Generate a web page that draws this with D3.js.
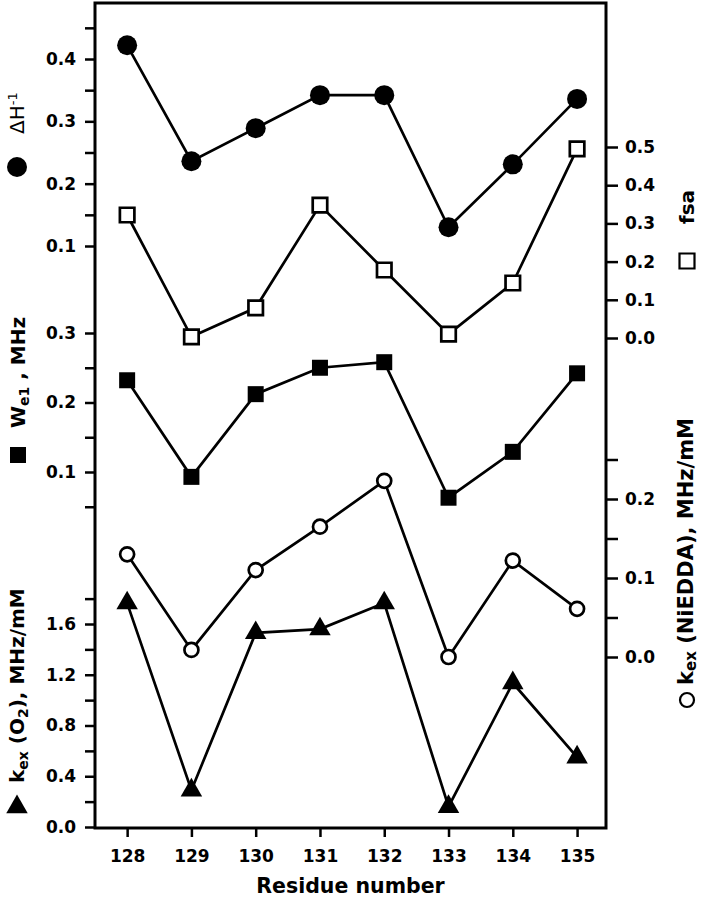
<!DOCTYPE html>
<html>
<head>
<meta charset="utf-8">
<script src="https://cdn.jsdelivr.net/npm/d3@7"></script>
<style>
    body { margin: 0; background: #fff; }
    svg { display: block; }
    text { font-family: "DejaVu Sans", "Liberation Sans", Arial, sans-serif; font-weight: bold; fill: #000; }
    .tick line { stroke: #000; stroke-width: 2.5; }
    .tick text { font-size: 17px; }
</style>
</head>
<body>
<svg id="chart"></svg>
<script>
// Data
const residues = [128, 129, 130, 131, 132, 133, 134, 135];
const deltaHInv = [0.422, 0.236, 0.289, 0.342, 0.342, 0.130, 0.231, 0.336];
const fsa = [0.322, 0.003, 0.079, 0.348, 0.178, 0.010, 0.144, 0.495];
const we1 = [0.232, 0.093, 0.212, 0.250, 0.258, 0.063, 0.129, 0.242];
const kexNiEDDA = [0.130, 0.009, 0.110, 0.165, 0.223, 0.000, 0.122, 0.061];
const kexO2 = [1.765, 0.29, 1.53, 1.56, 1.765, 0.16, 1.135, 0.55];

// Tick values
const dHTicks = [0.1, 0.2, 0.3, 0.4];
const dHMinor = [0.15, 0.25, 0.35, 0.45];
const weTicks = [0.1, 0.2, 0.3];
const weMinor = [0.05, 0.15, 0.25];
const o2Ticks = [0.0, 0.4, 0.8, 1.2, 1.6];
const o2Minor = [0.2, 0.6, 1.0, 1.4, 1.8];
const fsaTicks = [0.0, 0.1, 0.2, 0.3, 0.4, 0.5];
const niTicks = [0.0, 0.1, 0.2];
const niMinor = [0.05, 0.15, 0.25];

const width = 702, height = 899;
const plotLeft = 95, plotRight = 606, plotTop = 3, plotBottom = 828;

const svg = d3.select("#chart").attr("width", width).attr("height", height);

const x = d3.scaleLinear().domain([127.5, 135.45]).range([plotLeft, plotRight]);

// each stacked series gets its own y scale on the shared frame
const yDH = d3.scaleLinear().domain([0.1, 0.4]).range([246, 59]);
const yWe = d3.scaleLinear().domain([0.1, 0.3]).range([472, 333]);
const yO2 = d3.scaleLinear().domain([0, 1.6]).range([827, 624]);
const yFsa = d3.scaleLinear().domain([0, 0.5]).range([338, 147]);
const yNi = d3.scaleLinear().domain([0, 0.2]).range([657, 499]);

const fmt = d3.format(".1f");

// Left axes
function leftAxis(scale, major, minor) {
    const g = svg.append("g").attr("transform", `translate(${plotLeft},0)`);
    g.append("g").call(d3.axisLeft(scale).tickValues(major).tickSize(10).tickPadding(9).tickFormat(fmt));
    g.append("g").call(d3.axisLeft(scale).tickValues(minor).tickSize(10).tickFormat(""));
    g.selectAll(".domain").remove();
}
leftAxis(yDH, dHTicks, dHMinor);
leftAxis(yWe, weTicks, weMinor);
leftAxis(yO2, o2Ticks, o2Minor);

// Right axes
function rightAxis(scale, major, minor) {
    const g = svg.append("g").attr("transform", `translate(${plotRight},0)`);
    g.append("g").call(d3.axisRight(scale).tickValues(major).tickSize(12).tickPadding(7).tickFormat(fmt));
    if (minor) g.append("g").call(d3.axisRight(scale).tickValues(minor).tickSize(12).tickFormat(""));
    g.selectAll(".domain").remove();
}
rightAxis(yFsa, fsaTicks, null);
rightAxis(yNi, niTicks, niMinor);

// Bottom axis
const xAxis = svg.append("g")
    .attr("transform", `translate(0,${plotBottom})`)
    .call(d3.axisBottom(x).tickValues(residues).tickSize(9).tickPadding(13).tickFormat(d3.format("d")));
xAxis.selectAll(".domain").remove();

// Frame
svg.append("rect")
    .attr("x", plotLeft).attr("y", plotTop)
    .attr("width", plotRight - plotLeft).attr("height", plotBottom - plotTop)
    .attr("fill", "none").attr("stroke", "#000").attr("stroke-width", 3);

svg.append("text")
    .attr("x", (plotLeft + plotRight) / 2).attr("y", 893)
    .attr("text-anchor", "middle")
    .style("font-size", "20.5px")
    .text("Residue number");

// Series
const series = [
    {values: deltaHInv, y: yDH, symbol: d3.symbolCircle, size: Math.PI * 10 * 10, fill: "#000"},
    {values: fsa, y: yFsa, symbol: d3.symbolSquare, size: 14.5 * 14.5, fill: "#fff"},
    {values: we1, y: yWe, symbol: d3.symbolSquare, size: 16 * 16, fill: "#000"},
    {values: kexNiEDDA, y: yNi, symbol: d3.symbolCircle, size: Math.PI * 7 * 7, fill: "#fff"},
    {values: kexO2, y: yO2, symbol: d3.symbolTriangle, size: 200, fill: "#000"}
];

series.forEach(s => {
    const pts = residues.map((r, i) => [x(r), s.y(s.values[i])]);
    svg.append("path")
        .datum(pts)
        .attr("d", d3.line())
        .attr("fill", "none")
        .attr("stroke", "#000")
        .attr("stroke-width", 2.7);

    svg.append("g")
        .selectAll("path")
        .data(pts)
        .join("path")
        .attr("transform", d => `translate(${d[0]},${d[1]})`)
        .attr("d", d3.symbol().type(s.symbol).size(s.size))
        .attr("fill", s.fill)
        .attr("stroke", "#000")
        .attr("stroke-width", s.fill === "#fff" ? 2.7 : 0);
});

// Axis titles (rotated, symbol below text)
function title(xPos, yStart, size, build) {
    const t = svg.append("text")
        .attr("transform", `translate(${xPos},${yStart}) rotate(-90)`)
        .attr("dy", "0.36em")
        .style("font-size", size + "px");
    build(t);
    return t;
}

function key(xPos, yPos, type, size, fill) {
    svg.append("path")
        .attr("transform", `translate(${xPos},${yPos})`)
        .attr("d", d3.symbol().type(type).size(size))
        .attr("fill", fill)
        .attr("stroke", "#000")
        .attr("stroke-width", fill === "#fff" ? 2.2 : 0);
}

// left side
key(17, 167, d3.symbolCircle, Math.PI * 10 * 10, "#000");
title(17, 134, 20, t => {
    t.style("font-weight", "normal");
    t.append("tspan").text("\u0394H");
    t.append("tspan").attr("dy", -7).style("font-size", "13px").text("-1");
});

key(18, 455, d3.symbolSquare, 16 * 16, "#000");
title(18, 428, 20, t => {
    t.append("tspan").text("W");
    t.append("tspan").attr("dy", 4).style("font-size", "14px").text("e1");
    t.append("tspan").attr("dy", -4).text(" ,  MHz");
});

key(17, 807, d3.symbolTriangle, 200, "#000");
title(17, 783, 20, t => {
    t.append("tspan").text("k");
    t.append("tspan").attr("dy", 4).style("font-size", "14px").text("ex");
    t.append("tspan").attr("dy", -4).text(" (O");
    t.append("tspan").attr("dy", 4).style("font-size", "14px").text("2");
    t.append("tspan").attr("dy", -4).text("), MHz/mM");
});

// right side
key(687, 261, d3.symbolSquare, 15 * 15, "#fff");
title(687, 224, 20, t => t.append("tspan").text("fsa"));

key(687, 700, d3.symbolCircle, Math.PI * 7 * 7, "#fff");
title(685, 685, 21, t => {
    t.append("tspan").text("k");
    t.append("tspan").attr("dy", 3.5).style("font-size", "15px").text("ex");
    t.append("tspan").attr("dy", -3.5).text(" (NiEDDA), MHz/mM");
});
</script>
</body>
</html>
